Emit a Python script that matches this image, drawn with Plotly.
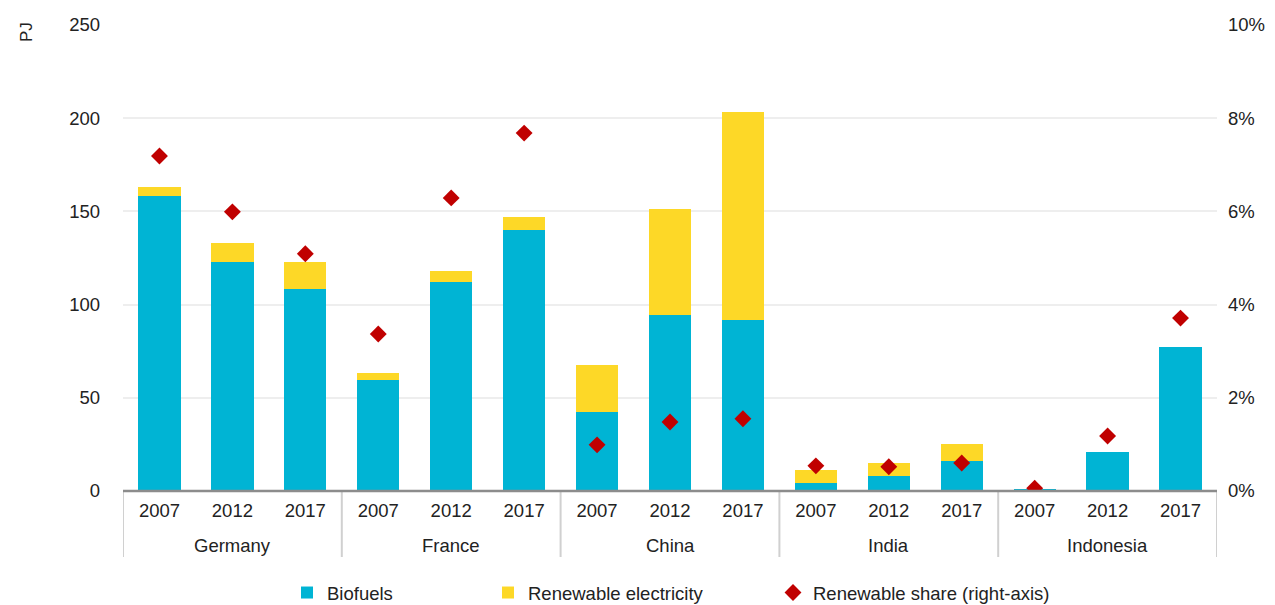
import plotly.graph_objects as go

countries = ["Germany", "France", "China", "India", "Indonesia"]
years = ["2007", "2012", "2017"]
biofuels = [158, 123, 108.5, 59.5, 112, 140, 42.5, 94.5, 91.5, 4.3, 8, 16.2, 1, 21, 77]
renew_elec = [5, 10, 14.5, 3.8, 6, 7, 25, 57, 112, 7, 7, 9, 0, 0, 0]
renew_share = [0.0719, 0.0599, 0.0509, 0.0337, 0.0629, 0.0768, 0.0099, 0.0148, 0.0155,
               0.0054, 0.0052, 0.0060, 0.0006, 0.0118, 0.0371]

n_y = len(years)
xpos = list(range(len(countries) * n_y))
year_labels = [y for _ in countries for y in years]
group_centers = [i * n_y + (n_y - 1) / 2 for i in range(len(countries))]
dividers = [i * n_y - 0.5 for i in range(len(countries) + 1)]

FONT = "Liberation Sans"
FS = 18.5
# page offset (default body margin) compensation
OFF = 8
FIG_W, FIG_H = 1275 - OFF, 605 - OFF
PLOT_L, PLOT_W, PLOT_T, PLOT_B = 123, 1094, 25, 491   # in screenshot pixels
PLOT_H = PLOT_B - PLOT_T


def px_x(p):
    return (p - PLOT_L) / PLOT_W


def px_y(p):
    return (PLOT_B - p) / PLOT_H


fig = go.Figure()
fig.add_trace(go.Bar(x=xpos, y=biofuels, name="Biofuels", marker_color="#00B4D4",
                     marker_line_width=0, legend="legend"))
fig.add_trace(go.Bar(x=xpos, y=renew_elec, name="Renewable electricity", marker_color="#FDD827",
                     marker_line_width=0, legend="legend2"))
fig.add_trace(go.Scatter(x=xpos, y=renew_share, name="Renewable share (right-axis)", mode="markers",
                         marker=dict(symbol="diamond", size=13, color="#C00000"),
                         yaxis="y2", legend="legend3"))

leg_common = dict(orientation="h", y=px_y(574), yanchor="top", xanchor="left",
                  font=dict(size=FS, family=FONT, color="#222222"), itemwidth=30,
                  bgcolor="rgba(0,0,0,0)")

shapes = [dict(type="line", xref="x", yref="paper", x0=d, x1=d, y0=0, y1=px_y(557),
               line=dict(color="#d0d0d0", width=2)) for d in dividers]
shapes.append(dict(type="line", xref="paper", yref="paper", x0=0, x1=1, y0=0, y1=0,
                   line=dict(color="#8c8c8c", width=2.5)))

annotations = [dict(text=c, xref="x", yref="paper", x=gc, y=px_y(545), xanchor="center",
                    yanchor="middle", showarrow=False, font=dict(size=FS))
               for c, gc in zip(countries, group_centers)]
annotations.append(dict(text="PJ", xref="paper", yref="paper", x=px_x(27), y=px_y(20),
                        xanchor="center", yanchor="top", textangle=-90, showarrow=False,
                        font=dict(size=17)))

fig.update_layout(
    barmode="stack",
    bargap=0.42,
    width=FIG_W, height=FIG_H,
    margin=dict(l=PLOT_L - OFF, r=1275 - PLOT_L - PLOT_W, t=PLOT_T - OFF, b=605 - PLOT_B,
                autoexpand=False),
    paper_bgcolor="white", plot_bgcolor="white",
    font=dict(family=FONT, size=FS, color="#222222"),
    showlegend=True,
    legend=dict(leg_common, x=px_x(287)),
    legend2=dict(leg_common, x=px_x(488)),
    legend3=dict(leg_common, x=px_x(773)),
    xaxis=dict(range=[-0.5, len(xpos) - 0.5], tickmode="array", tickvals=xpos,
               ticktext=year_labels, showline=False, showgrid=False, zeroline=False,
               ticks="", ticklabelstandoff=6, automargin=False, tickfont=dict(size=FS)),
    yaxis=dict(range=[0, 250], dtick=50, showgrid=True, gridcolor="#eeeeee", gridwidth=2,
               zeroline=False, ticklabelstandoff=22, automargin=False, tickfont=dict(size=FS)),
    yaxis2=dict(range=[0, 0.1], dtick=0.02, tickformat=".0%", overlaying="y", side="right",
                showgrid=False, zeroline=False, ticklabelstandoff=10, automargin=False,
                tickfont=dict(size=FS)),
    shapes=shapes,
    annotations=annotations,
)

fig.write_html("out.html")
